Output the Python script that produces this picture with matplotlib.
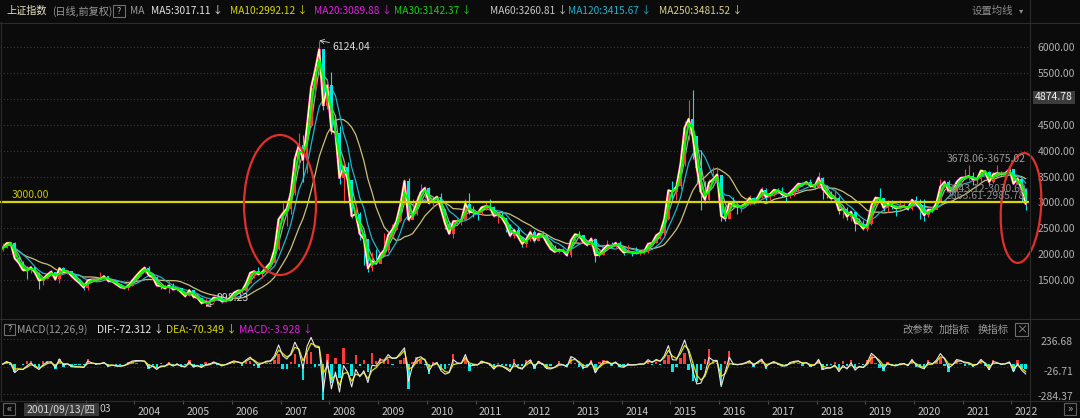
import numpy as np
import pandas as pd
import matplotlib
matplotlib.use('Agg')
import matplotlib.pyplot as plt
from matplotlib.patches import Ellipse, Rectangle
import matplotlib.transforms as mtransforms

plt.rcParams['font.family'] = ['Noto Sans CJK SC', 'DejaVu Sans']

# monthly bars of the index, 2001-04 .. 2022-04
months = pd.period_range('2001-04', '2022-04', freq='M')
first_open = 2112

close = [
    2119, 2214, 2218, 1921, 1834, 1698, 1690, 1748, 1646,                   # 2001
    1491, 1525, 1604, 1667, 1515, 1732, 1653, 1670, 1581, 1507, 1441, 1358,  # 2002
    1499, 1512, 1510, 1521, 1577, 1487, 1476, 1421, 1367, 1348, 1397, 1497,  # 2003
    1590, 1675, 1742, 1595, 1555, 1399, 1386, 1342, 1396, 1321, 1340, 1266,  # 2004
    1191, 1306, 1181, 1159, 1060, 1080, 1083, 1162, 1155, 1092, 1099, 1161,  # 2005
    1258, 1299, 1299, 1440, 1641, 1672, 1612, 1658, 1752, 1837, 2099, 2675,  # 2006
    2786, 2881, 3184, 3841, 4109, 3820, 4471, 5218, 5552, 5955, 4871, 5262,  # 2007
    4383, 4348, 3473, 3693, 3433, 2736, 2776, 2397, 2293, 1729, 1871, 1821,  # 2008
    1991, 2082, 2373, 2477, 2633, 2959, 3412, 2667, 2779, 2996, 3195, 3277,  # 2009
    2989, 3051, 3110, 2870, 2592, 2398, 2638, 2638, 2656, 2979, 2820, 2808,  # 2010
    2790, 2905, 2928, 2911, 2743, 2762, 2701, 2568, 2359, 2468, 2333, 2199,  # 2011
    2292, 2428, 2262, 2397, 2373, 2225, 2103, 2047, 2086, 2069, 1980, 2269,  # 2012
    2385, 2366, 2237, 2178, 2301, 1979, 1994, 2098, 2175, 2141, 2220, 2116,  # 2013
    2033, 2056, 2033, 2026, 2039, 2048, 2202, 2217, 2364, 2420, 2683, 3235,  # 2014
    3210, 3310, 3748, 4442, 4612, 4277, 3664, 3206, 3053, 3383, 3446, 3539,  # 2015
    2738, 2688, 3004, 2938, 2917, 2930, 2979, 3085, 3005, 3100, 3250, 3104,  # 2016
    3159, 3242, 3223, 3155, 3117, 3192, 3273, 3361, 3349, 3393, 3317, 3307,  # 2017
    3481, 3259, 3169, 3082, 3095, 2847, 2876, 2725, 2821, 2603, 2588, 2494,  # 2018
    2585, 2941, 3091, 3078, 2899, 2979, 2933, 2886, 2905, 2929, 2872, 3050,  # 2019
    2977, 2880, 2750, 2860, 2852, 2985, 3310, 3396, 3218, 3225, 3392, 3473,  # 2020
    3483, 3509, 3442, 3447, 3615, 3591, 3397, 3544, 3568, 3547, 3564, 3640,  # 2021
    3361, 3462, 3252, 2975,                                                  # 2022
]

high = [
    2214, 2233, 2245, 2230, 1982, 1870, 1770, 1776, 1749,
    1653, 1532, 1623, 1693, 1667, 1755, 1748, 1704, 1669, 1594, 1519, 1452,
    1504, 1519, 1548, 1649, 1581, 1579, 1520, 1492, 1431, 1387, 1407, 1499,
    1592, 1676, 1758, 1783, 1619, 1576, 1423, 1403, 1496, 1446, 1382, 1346,
    1269, 1329, 1307, 1236, 1165, 1147, 1087, 1204, 1224, 1163, 1103, 1164,
    1263, 1304, 1309, 1440, 1654, 1694, 1757, 1660, 1754, 1839, 2103, 2698,
    2995, 3049, 3187, 3841, 4335, 4311, 4471, 5219, 5552, 6124, 5914, 5359,
    5523, 4695, 4472, 3786, 3786, 3424, 2952, 2814, 2352, 2267, 2051, 2100,
    2041, 2403, 2402, 2580, 2688, 2985, 3454, 3478, 3068, 3124, 3361, 3325,
    3306, 3068, 3122, 3181, 2882, 2648, 2652, 2707, 2685, 3073, 3186, 2940,
    2854, 2941, 3017, 3067, 2934, 2772, 2827, 2707, 2582, 2475, 2536, 2342,
    2297, 2478, 2476, 2401, 2453, 2374, 2243, 2178, 2114, 2130, 2094, 2275,
    2398, 2444, 2364, 2267, 2334, 2315, 2092, 2149, 2270, 2242, 2246, 2260,
    2113, 2177, 2063, 2146, 2061, 2088, 2209, 2248, 2372, 2425, 2695, 3239,
    3406, 3324, 3835, 4573, 4986, 5178, 4184, 4006, 3407, 3459, 3678, 3684,
    3538, 2934, 3018, 3097, 2952, 2957, 3070, 3140, 3101, 3115, 3301, 3271,
    3175, 3262, 3281, 3295, 3156, 3192, 3281, 3372, 3392, 3419, 3450, 3314,
    3587, 3495, 3333, 3220, 3219, 3116, 2915, 2918, 2827, 2820, 2703, 2666,
    2630, 2961, 3130, 3288, 3021, 3049, 3048, 2918, 3042, 2981, 2969, 3051,
    3127, 3058, 3074, 2864, 2917, 2994, 3458, 3425, 3426, 3358, 3458, 3474,
    3637, 3731, 3581, 3481, 3626, 3629, 3599, 3581, 3723, 3600, 3593, 3708,
    3651, 3491, 3480, 3279,
]

low = [
    2073, 2112, 2172, 1907, 1818, 1686, 1514, 1648, 1599,
    1339, 1402, 1519, 1590, 1498, 1455, 1649, 1612, 1577, 1501, 1412, 1311,
    1312, 1467, 1492, 1504, 1502, 1473, 1465, 1405, 1358, 1333, 1307, 1381,
    1496, 1577, 1640, 1559, 1521, 1385, 1336, 1321, 1260, 1304, 1296, 1259,
    1177, 1187, 1165, 1135, 1043, 998, 1004, 1078, 1132, 1067, 1074, 1096,
    1163, 1257, 1258, 1302, 1440, 1541, 1599, 1542, 1646, 1740, 1836, 2085,
    2617, 2541, 2781, 3140, 3667, 3404, 3563, 4464, 5030, 5462, 4778, 4812,
    4330, 4123, 3357, 2990, 3333, 2693, 2653, 2284, 1802, 1664, 1678, 1814,
    1844, 1988, 2037, 2339, 2459, 2629, 2978, 2639, 2712, 2760, 3008, 3081,
    2963, 2890, 2998, 2862, 2481, 2382, 2319, 2577, 2573, 2662, 2773, 2721,
    2661, 2752, 2855, 2909, 2717, 2610, 2701, 2437, 2331, 2307, 2320, 2135,
    2132, 2254, 2242, 2254, 2330, 2211, 2101, 2040, 2029, 2057, 1959, 1949,
    2254, 2319, 2210, 2161, 2168, 1849, 1951, 1991, 2089, 2127, 2124, 2087,
    1984, 2026, 1974, 2014, 1991, 2010, 2034, 2180, 2211, 2302, 2377, 2662,
    3095, 3050, 3262, 3708, 4198, 3847, 3373, 2850, 2983, 3039, 3386, 3434,
    2638, 2638, 2734, 2910, 2781, 2808, 2935, 2958, 2969, 2999, 3095, 3056,
    3044, 3131, 3184, 3097, 3016, 3081, 3128, 3220, 3323, 3340, 3302, 3254,
    3307, 3062, 3091, 3041, 3041, 2782, 2691, 2653, 2644, 2449, 2565, 2463,
    2440, 2571, 2956, 3043, 2838, 2824, 2866, 2733, 2882, 2891, 2858, 2857,
    2970, 2685, 2647, 2720, 2813, 2877, 3017, 3285, 3202, 3200, 3209, 3325,
    3465, 3433, 3328, 3357, 3401, 3524, 3312, 3381, 3546, 3515, 3500, 3567,
    3357, 3348, 3023, 2863,
]

ma_names = ['MA250', 'MA120', 'MA60', 'MA20', 'MA10', 'MA5', 'MA30']
ma_months = [12, 6, 3, 1, 1, 1, 2]          # window expressed in monthly bars
ma_colors = ['#c8c07a', '#1cb4cc', '#a8a8a8', '#ff00ff', '#ffff00', '#ffffff', '#00ff00']
ma_widths = [0.9, 0.9, 0.9, 1.8, 1.2, 0.6, 1.5]

price_ticks = [1500, 2000, 2500, 3000, 3500, 4000, 4500, 5000, 5500, 6000]
macd_labels = [236.68, -26.71, -284.37]
years = list(range(2002, 2023))

header = [('上证指数', 6, '#e8e2c4'), ('(日线,前复权)', 52, '#9a9a9a'), ('MA', 130, '#9a9a9a'),
          ('MA5:3017.11 ↓', 151, '#e6e6e6'), ('MA10:2992.12 ↓', 230, '#d8d800'),
          ('MA20:3089.88 ↓', 314, '#e020e0'), ('MA30:3142.37 ↓', 394, '#10d010'),
          ('MA60:3260.81 ↓', 490, '#c8c8c8'), ('MA120:3415.67 ↓', 568, '#1cb4cc'),
          ('MA250:3481.52 ↓', 659, '#d8d08a')]
macd_header = [('MACD(12,26,9)', 17, '#9a9a9a'), ('DIF:-72.312 ↓', 97, '#e6e6e6'),
               ('DEA:-70.349 ↓', 166, '#d8d800'), ('MACD:-3.928 ↓', 239, '#e020e0')]

BG = '#0b0b0b'
RED = '#ff3a3a'
CYAN = '#00e8e8'
GRID = '#3a3a3a'
LBL = '#b0b0b0'
FS = 7.5

t = np.asarray(months.year + (months.month - 0.5) / 12.0, dtype=float)
c = pd.Series(close, dtype=float)
o = c.shift(1).fillna(first_open)
up = (c >= o).to_numpy()

fig = plt.figure(figsize=(10.8, 4.18), dpi=100, facecolor=BG)
W, H = 1080.0, 418.0
ax = fig.add_axes([0, 1 - 318 / H, 1029 / W, 295 / H], facecolor=BG)
ax2 = fig.add_axes([0, 1 - 400 / H, 1029 / W, 81 / H], facecolor=BG, sharex=ax)

xlo, xhi = 2001.24, 2022.36
ax.set_xlim(xlo, xhi)
ax.set_ylim(770.5, 6463)

# price panel
for nm, k, col, lw in zip(ma_names[:3], ma_months[:3], ma_colors[:3], ma_widths[:3]):
    ax.plot(t, c.rolling(k, min_periods=1).mean(), color=col, lw=lw, zorder=2)
ax.vlines(t, low, high, colors=np.where(up, RED, CYAN), lw=0.8, zorder=3)
ax.bar(t[up], (c - o)[up], bottom=o[up], width=0.058, color=RED, zorder=3)
ax.bar(t[~up], (c - o)[~up], bottom=o[~up], width=0.058, color=CYAN, zorder=3)
for nm, k, col, lw in zip(ma_names[3:], ma_months[3:], ma_colors[3:], ma_widths[3:]):
    ax.plot(t, c.rolling(k, min_periods=1).mean(), color=col, lw=lw, zorder=4)

ax.axhline(3000, color='#d8d800', lw=1.6, zorder=5)
ax.annotate('3000.00', xy=(0.011, 3000), xycoords=('axes fraction', 'data'),
            xytext=(0, 2), textcoords='offset pixels', color='#c8c800', fontsize=FS, va='bottom')

ipk = int(np.argmax(high))
ax.annotate(f'{6124.04:.2f}', xy=(t[ipk], 6124.04), xytext=(13, -6), textcoords='offset pixels',
            color='#d8d8d8', fontsize=FS, va='center', ha='left',
            arrowprops=dict(arrowstyle='->', color='#d8d8d8', lw=0.6, shrinkA=0, shrinkB=0))
ilo = int(np.argmin(low))
ax.annotate(f'{998.23:.2f}', xy=(t[ilo], 998.23), xytext=(11, 8), textcoords='offset pixels',
            color='#d8d8d8', fontsize=FS, va='center', ha='left', zorder=3,
            arrowprops=dict(arrowstyle='->', color='#d8d8d8', lw=0.6, shrinkA=0, shrinkB=0))

ax.set_yticks(price_ticks)
ax.set_yticklabels(['' if v == 5000 else f'{v:.2f}' for v in price_ticks])
ax.yaxis.tick_right()
ax.tick_params(axis='y', length=0, labelcolor=LBL, labelsize=FS, pad=6)
ax.tick_params(axis='x', bottom=False, labelbottom=False)
ax.grid(axis='y', color=GRID, ls=(0, (1, 2)), lw=0.8)
for s in ax.spines.values():
    s.set_visible(False)

# MACD panel (12,26,9 on daily bars -> comparable smoothing on monthly bars)
ema_slow = c.ewm(alpha=0.72, adjust=False).mean()
dif = c - ema_slow
dea = dif.ewm(alpha=0.6, adjust=False).mean()
hist = 2 * (dif - dea)
ax2.set_ylim(-342.8, 433.0)
ax2.bar(t, hist, width=0.05, color=np.where(hist >= 0, RED, CYAN), zorder=2)
ax2.plot(t, dea, color='#e0e000', lw=0.9, zorder=3)
ax2.plot(t, dif, color='#e6e6e6', lw=0.8, zorder=4)
ax2.set_yticks(macd_labels)
ax2.yaxis.tick_right()
ax2.tick_params(axis='y', length=0, labelright=False)
ax2.grid(axis='y', color=GRID, ls=(0, (1, 2)), lw=0.8)
ax2.set_xticks(years)
ax2.set_xticklabels(['' if y < 2004 else str(y) for y in years])
ax2.tick_params(axis='x', direction='out', length=3, color='#505050', labelcolor='#c8c8c8',
                labelsize=FS, pad=2)
off = mtransforms.ScaledTranslation(3.5 / 100, 0, fig.dpi_scale_trans)
for lb in ax2.get_xticklabels():
    lb.set_horizontalalignment('left')
    lb.set_transform(lb.get_transform() + off)
for s in ax2.spines.values():
    s.set_visible(False)

# overlay in pixel coordinates
ov = fig.add_axes([0, 0, 1, 1], zorder=10)
ov.set_xlim(0, W)
ov.set_ylim(H, 0)
ov.axis('off')
ov.patch.set_alpha(0)

for yy in (22.5, 318.5, 400.5):
    ov.plot([0, W], [yy, yy], color='#2c2c2c', lw=0.8)
ov.plot([1029.5, 1029.5], [0, H], color='#2c2c2c', lw=0.8)
ov.plot([1.0, 1.0], [22, 400], color='#2c2c2c', lw=0.8)

for txt, x, col in header:
    ov.text(x, 11, txt, color=col, fontsize=7.3, va='center', ha='left')
ov.add_patch(Rectangle((113, 5), 12, 12, fill=False, ec='#707070', lw=0.8))
ov.text(119, 11, '?', color='#b0b0b0', fontsize=6.5, ha='center', va='center')
ov.text(972, 11, '设置均线', color='#8c8c8c', fontsize=FS, va='center')
ov.text(1019, 11, '▾', color='#8c8c8c', fontsize=6, va='center', family='DejaVu Sans')

for txt, x, col in macd_header:
    ov.text(x, 329.5, txt, color=col, fontsize=FS, va='center', ha='left')
ov.add_patch(Rectangle((4, 324), 11, 11, fill=False, ec='#707070', lw=0.8))
ov.text(9.5, 329.5, '?', color='#b0b0b0', fontsize=6.5, ha='center', va='center')
for txt, x in (('改参数', 902), ('加指标', 939), ('换指标', 978)):
    ov.text(x, 329.5, txt, color='#9a9a9a', fontsize=FS, va='center')
ov.add_patch(Rectangle((1015, 323), 13, 13, fill=False, ec='#707070', lw=0.8))
ov.text(1021.5, 329.5, '×', color='#9a9a9a', fontsize=8, ha='center', va='center')

for v, yy in zip(macd_labels, (342, 372, 397)):
    ov.text(1073, yy, f'{v:.2f}', color=LBL, fontsize=FS, ha='right', va='center')

ov.add_patch(Rectangle((1033, 91), 42, 13, fc='#3c3c3c', ec='none'))
ov.text(1073, 97.5, '4874.78', color='#f2f2f2', fontsize=FS, ha='right', va='center')

# stacked hi/lo labels at the right end overlap each other in the source screen
ov.text(947, 159, '3678.06-3675.02', color='#9a9a9a', fontsize=FS, va='center')
ov.text(948, 189, '3043.12-3030.60', color='#8a8a8a', fontsize=FS, va='center')
ov.text(946, 196, '2863.61-2985.78', color='#8a8a8a', fontsize=FS, va='center')

ov.add_patch(Ellipse((280, 205), 72, 140, fill=False, ec='#e0302a', lw=1.6))
ov.add_patch(Ellipse((1021, 208), 40, 110, angle=4, fill=False, ec='#e0302a', lw=1.6))

ov.add_patch(Rectangle((24, 403), 75, 13, fc='#3a3a3a', ec='none'))
ov.text(27, 409.5, '2001/09/13/四', color='#d8d8d8', fontsize=FS, va='center')
ov.text(100, 409.5, '03', color='#c8c8c8', fontsize=FS, va='center')
ov.add_patch(Rectangle((3, 403), 12, 12, fill=False, ec='#606060', lw=0.8))
ov.text(9, 409, '«', color='#b0b0b0', fontsize=8, ha='center', va='center')
ov.add_patch(Rectangle((1064, 403), 12, 12, fill=False, ec='#606060', lw=0.8))
ov.text(1070, 409, '»', color='#b0b0b0', fontsize=8, ha='center', va='center')

fig.savefig('out.png', dpi=100, facecolor=BG)
